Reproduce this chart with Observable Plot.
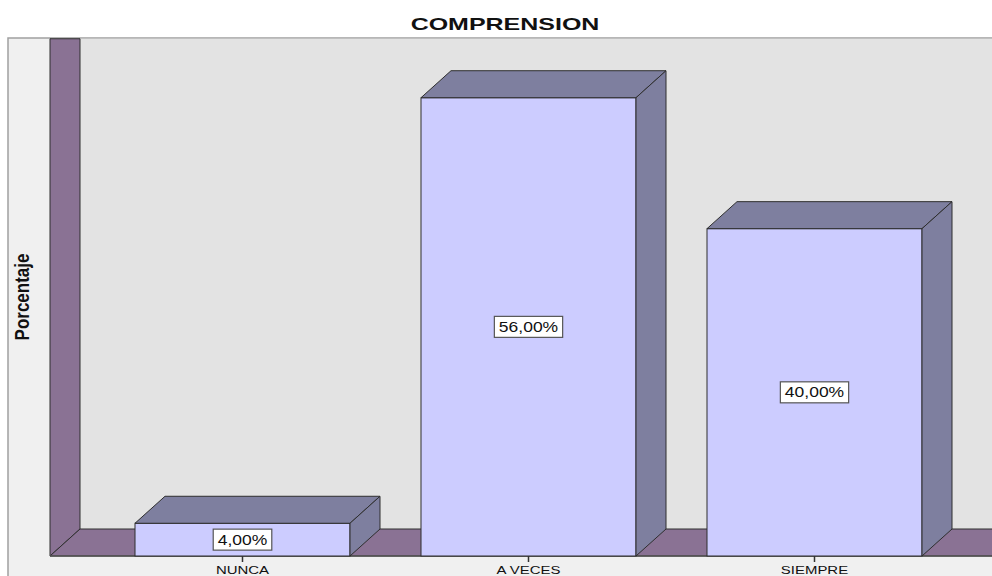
<!DOCTYPE html>
<html><head><meta charset="utf-8">
<script src="https://cdn.jsdelivr.net/npm/d3@7"></script>
<script src="https://cdn.jsdelivr.net/npm/@observablehq/plot@0.6"></script>
<style>body{margin:0;background:#fff;overflow:hidden} svg{display:block}</style>
</head><body><div id="chart"></div>
<script>
// ---- data ----
const title = "COMPRENSION";
const yLabel = "Porcentaje";
const categories = ["NUNCA", "A VECES", "SIEMPRE"];
const percentages = [4, 56, 40];
const valueLabels = ["4,00%", "56,00%", "40,00%"];
const yMax = 60;

const data = categories.map((c, i) => ({category: c, value: percentages[i], label: valueLabels[i]}));

// ---- layout / style ----
const W = 992, H = 576;
const depthX = 30, depthY = 27;
const wallX = 50, frameX = 8;
const purple = "#8a7294", side = "#7e7f9f", front = "#ccccff", backWall = "#e3e3e3", outer = "#f0f0f0";
const edge = "#2e2e2e";
const font = "'Liberation Sans', Arial, sans-serif";

const pts = (arr) => arr.map(p => p.join(",")).join(" ");

function background(index, scales) {
  const g = d3.create("svg:g");
  const y0 = scales.y(0), yTop = scales.y(yMax) - depthY;
  g.append("rect").attr("x", frameX).attr("y", yTop).attr("width", W).attr("height", H)
    .attr("fill", outer).attr("stroke", "#a0a0a0").attr("stroke-width", 1.5);
  g.append("rect").attr("x", wallX + depthX).attr("y", yTop + 0.75).attr("width", W)
    .attr("height", y0 - depthY - yTop).attr("fill", backWall);
  g.append("polygon").attr("points", pts([[wallX, yTop + 0.75], [wallX + depthX, yTop + 0.75], [wallX + depthX, y0 - depthY], [wallX, y0]]))
    .attr("fill", purple).attr("stroke", edge).attr("stroke-width", 1);
  g.append("polygon").attr("points", pts([[wallX, y0], [wallX + depthX, y0 - depthY], [W + 5, y0 - depthY], [W + 5, y0]]))
    .attr("fill", purple).attr("stroke", edge).attr("stroke-width", 1);
  g.append("line").attr("x1", wallX).attr("x2", W + 5).attr("y1", y0).attr("y2", y0)
    .attr("stroke", "#555").attr("stroke-width", 1.5);
  return g.node();
}

function barFaces(index, scales) {
  const g = d3.create("svg:g").attr("stroke", edge).attr("stroke-width", 1).attr("stroke-linejoin", "round");
  const bw = scales.x.bandwidth();
  for (const d of data) {
    const x0 = scales.x(d.category), x1 = x0 + bw;
    const yt = scales.y(d.value), yb = scales.y(0);
    g.append("polygon").attr("fill", side)
      .attr("points", pts([[x0, yt], [x1, yt], [x1 + depthX, yt - depthY], [x0 + depthX, yt - depthY]]));
    g.append("polygon").attr("fill", side)
      .attr("points", pts([[x1, yt], [x1 + depthX, yt - depthY], [x1 + depthX, yb - depthY], [x1, yb]]));
  }
  return g.node();
}

function labels(index, scales) {
  const g = d3.create("svg:g").attr("font-family", font);
  const bw = scales.x.bandwidth();
  const y0 = scales.y(0);
  for (const d of data) {
    const cx = scales.x(d.category) + bw / 2;
    // value label box
    const vg = g.append("g").attr("class", "vlabel").attr("transform", `translate(${cx},${scales.y(d.value / 2)})`);
    vg.append("rect").attr("fill", "#fff").attr("stroke", "#555").attr("stroke-width", 1.2);
    vg.append("text").attr("text-anchor", "middle").attr("y", 5).attr("font-size", 14)
      .attr("transform", "scale(1.25,1)").attr("fill", "#111").text(d.label);
    // tick
    g.append("line").attr("x1", cx).attr("x2", cx).attr("y1", y0).attr("y2", y0 + 6)
      .attr("stroke", "#333").attr("stroke-width", 1.5);
    // category label
    g.append("text").attr("transform", `translate(${cx},${y0 + 18}) scale(1.3,1)`)
      .attr("text-anchor", "middle").attr("font-size", 11.5).attr("fill", "#111").text(d.category);
  }
  // title
  g.append("text").attr("transform", `translate(505,30) scale(1.47,1)`)
    .attr("text-anchor", "middle").attr("font-size", 17).attr("font-weight", "bold").attr("fill", "#111").text(title);
  // y label
  g.append("text").attr("transform", `translate(29,297) rotate(-90) scale(0.85,1)`)
    .attr("text-anchor", "middle").attr("font-size", 20).attr("font-weight", "bold").attr("fill", "#111").text(yLabel);
  return g.node();
}

const chart = Plot.plot({
  width: W, height: H, margin: 0,
  x: {type: "band", domain: categories, range: [63, 994], padding: 0.25, axis: null},
  y: {domain: [0, yMax], range: [556, 65], axis: null},
  style: {background: "#fff", fontFamily: font},
  marks: [
    background,
    Plot.barY(data, {x: "category", y: "value", fill: front, stroke: edge, strokeWidth: 1}),
    barFaces,
    labels
  ]
});
document.getElementById("chart").append(chart);

// size value-label boxes to their text
chart.querySelectorAll("g.vlabel").forEach(vg => {
  const t = vg.querySelector("text");
  const w = t.getBBox().width * 1.25 + 9;
  const r = vg.querySelector("rect");
  r.setAttribute("x", -w / 2); r.setAttribute("width", w);
  r.setAttribute("y", -10.5); r.setAttribute("height", 21);
});
</script>
</body></html>
